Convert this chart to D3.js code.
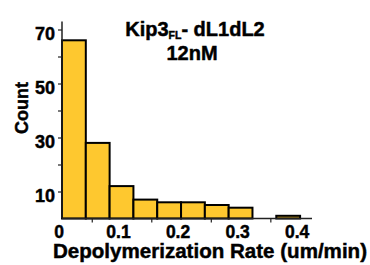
<!DOCTYPE html>
<html>
<head>
<meta charset="utf-8">
<script src="https://cdn.jsdelivr.net/npm/d3@7"></script>
<style>
  body { margin: 0; background: #fff; }
  text { font-family: Arial, "Liberation Sans", sans-serif; font-weight: bold; fill: #000; stroke: #000; stroke-width: 0.45px; }
</style>
</head>
<body>
<svg id="chart" width="370" height="265"></svg>
<script>
// histogram data (bin start, um/min) and counts
const binStarts = [0, 0.04, 0.08, 0.12, 0.16, 0.2, 0.24, 0.28, 0.32, 0.36];
const binWidth = 0.04;
const counts = [66, 28, 12, 7, 6, 6, 5, 4, 0, 1];
const yTicks = [10, 30, 50, 70];
const yMinor = [20, 40, 60];
const xTicks = [0, 0.1, 0.2, 0.3, 0.4];
const xMinor = [0.05, 0.15, 0.25, 0.35];

const svg = d3.select("#chart");
const x = d3.scaleLinear().domain([0, 0.42]).range([62, 312]);
const y = d3.scaleLinear().domain([0, 73]).range([218.5, 21.4]);

// bars
svg.append("g").attr("id", "bars")
  .selectAll("rect")
  .data(binStarts)
  .join("rect")
  .attr("x", d => x(d))
  .attr("width", d => x(d + binWidth) - x(d))
  .attr("y", (d, i) => y(counts[i]))
  .attr("height", (d, i) => y(0) - y(counts[i]))
  .attr("fill", "#fec82f")
  .attr("stroke", "#000")
  .attr("stroke-width", 2);

// y axis
const yAxis = svg.append("g").attr("transform", `translate(${x(0)},0)`);
yAxis.call(d3.axisLeft(y).tickValues(yTicks.concat(yMinor)).tickSize(4).tickFormat(""));
yAxis.select(".domain").attr("d", `M0,${y(73)}V${y(0)}`).attr("stroke", "#222").attr("stroke-width", 1.5);
yAxis.selectAll(".tick line").attr("stroke", "#222").attr("stroke-width", 1.2);
yAxis.selectAll(".yl")
  .data(yTicks)
  .join("text")
  .attr("class", "yl")
  .attr("x", -7)
  .attr("y", d => y(d) + 10)
  .attr("text-anchor", "end")
  .style("font-size", "18px")
  .text(d => d);

// x axis
const xAxis = svg.append("g").attr("transform", `translate(0,${y(0)})`);
xAxis.call(d3.axisBottom(x).tickValues(xMinor).tickSize(4).tickFormat(""));
xAxis.select(".domain").attr("d", `M${x(0)},0H${x(0.42)}`).attr("stroke", "#222").attr("stroke-width", 1.5);
xAxis.selectAll(".tick line").attr("stroke", "#222").attr("stroke-width", 1.2);
xAxis.selectAll(".xl")
  .data(xTicks)
  .join("text")
  .attr("class", "xl")
  .attr("x", d => x(d) - 3)
  .attr("y", 19)
  .attr("text-anchor", "middle")
  .style("font-size", "17.5px")
  .text(d => d === 0 ? "0" : d3.format(".1f")(d));

// axis titles
svg.append("text")
  .attr("x", 210)
  .attr("y", 258)
  .attr("text-anchor", "middle")
  .attr("textLength", 314)
  .attr("lengthAdjust", "spacingAndGlyphs")
  .style("font-size", "20px")
  .text("Depolymerization Rate (um/min)");

svg.append("text")
  .attr("transform", "translate(28,108) rotate(-90)")
  .attr("text-anchor", "middle")
  .style("font-size", "18px")
  .text("Count");

// title
const title = svg.append("text")
  .attr("x", 195)
  .attr("y", 36)
  .attr("text-anchor", "middle")
  .style("font-size", "20px");
title.append("tspan").text("Kip3");
title.append("tspan").attr("dy", 3).style("font-size", "10.5px").text("FL");
title.append("tspan").attr("dy", -3).text("- dL1dL2");

svg.append("text")
  .attr("x", 192)
  .attr("y", 59.5)
  .attr("text-anchor", "middle")
  .style("font-size", "20px")
  .text("12nM");
</script>
</body>
</html>
